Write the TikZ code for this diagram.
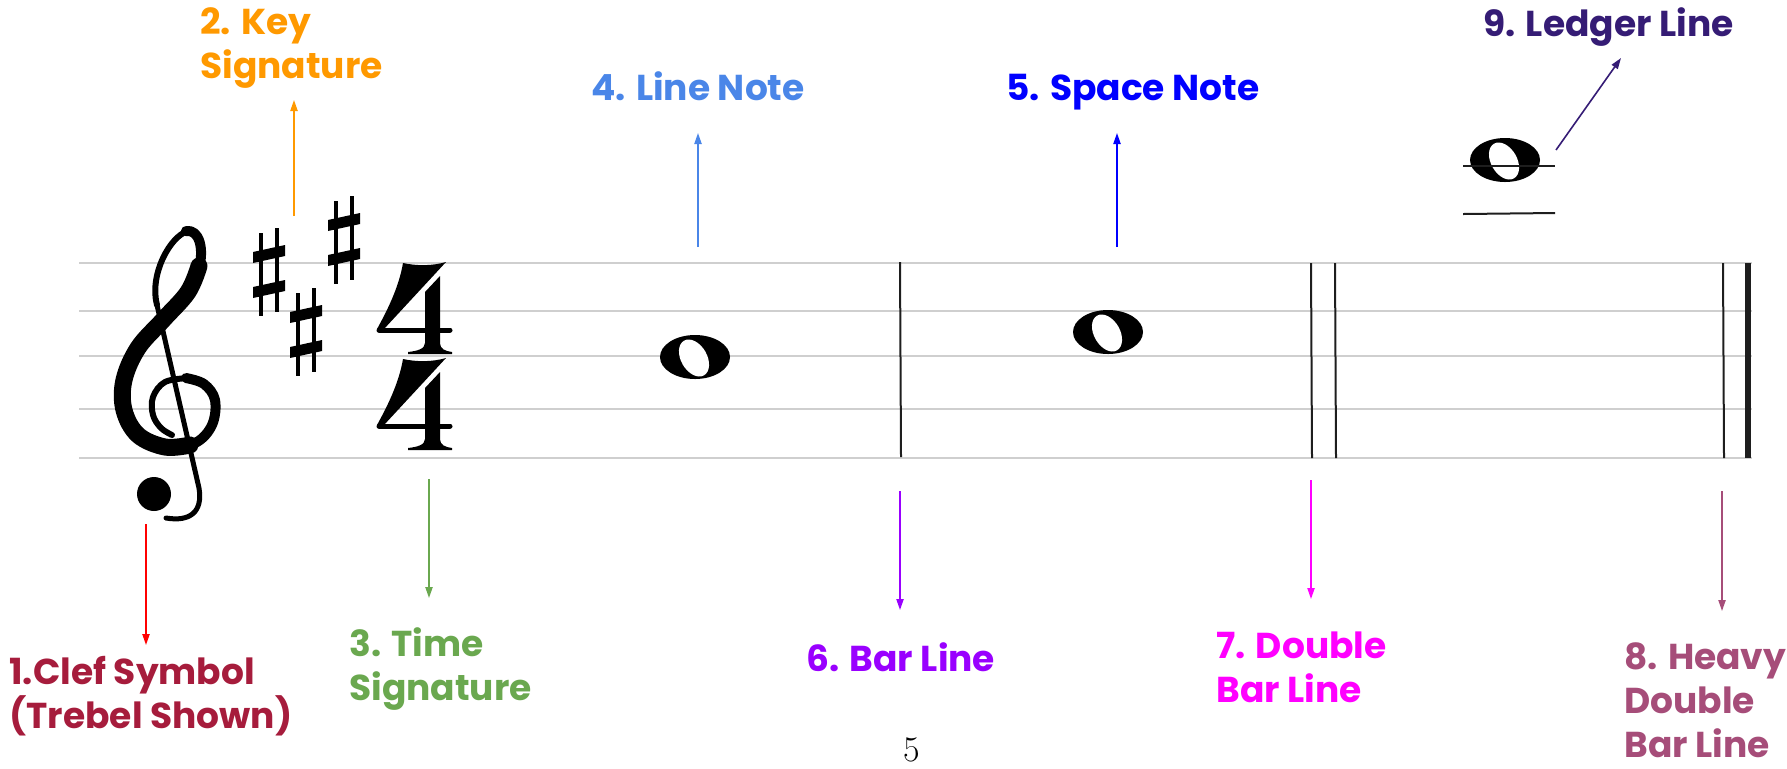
\documentclass[tikz,border=0pt]{standalone}
\usepackage{fontspec}
\newfontfamily\lblfont{Poppins}
\usetikzlibrary{arrows.meta}
\definecolor{cClef}{HTML}{A61C3C}
\definecolor{cClefArrow}{HTML}{FF0000}
\definecolor{cKey}{HTML}{FF9900}
\definecolor{cTime}{HTML}{6AA84F}
\definecolor{cLineNote}{HTML}{4A86E8}
\definecolor{cSpace}{HTML}{0000FF}
\definecolor{cBar}{HTML}{9900FF}
\definecolor{cDouble}{HTML}{FF00FF}
\definecolor{cHeavy}{HTML}{A64D79}
\definecolor{cLedger}{HTML}{351C75}
\definecolor{staffgray}{HTML}{CFCFCF}
\definecolor{inkdark}{HTML}{1E1E1E}
\tikzset{
  lbl/.style={font=\lblfont\bfseries\fontsize{18pt}{22pt}\selectfont, anchor=base west, align=left, inner sep=0pt},
  arr/.style={line width=0.8pt, -{Triangle[length=5.5pt,width=3.6pt]}},
  staffline/.style={draw=staffgray, line width=0.55pt},
  barline/.style={draw=inkdark, line width=1pt},
  ledgerline/.style={draw=inkdark, line width=1pt},
  sharp/.pic={
    \draw[line width=2pt] (-8,-39) -- (-8,44) (8,-44) -- (8,40);
    \fill (-16,-20) -- (16,-27) -- (16,-16) -- (-16,-9) -- cycle;
    \fill (-16,15) -- (16,8) -- (16,19) -- (-16,26) -- cycle;
  },
  wnote/.pic={
    \fill (0,0) ellipse [x radius=35, y radius=22];
    \fill[white, shift={(-1,1)}, rotate=-60] (0,0) ellipse [x radius=20, y radius=13];
  },
  tsfour/.pic={
    \fill (26,0) .. controls (22,24) and (10,48) .. (0,66) -- (7,66) -- (69,-1)
      .. controls (55,3) and (40,3) .. (26,0) -- cycle;
    \fill (48,29) -- (63,13) -- (63,80) .. controls (63,86) and (68,88) .. (75,89)
      -- (75,91) -- (31,91) -- (31,89) .. controls (40,88) and (48,86) .. (48,80) -- cycle;
    \draw[line width=2.5pt, line cap=round] (2,67) -- (73,67);
  },
}
\begin{document}
\begin{tikzpicture}[x=0.5pt,y=-0.5pt]
\useasboundingbox (0,0) rectangle (1787,768);

% staff
\foreach \yy in {263,311,356,409,458} \draw[staffline] (79,\yy) -- (1752,\yy);

% treble clef
\begin{scope}[line cap=round, line join=round]
 \draw[line width=3pt] (157,305) .. controls (149,275) and (170,236) .. (188,231);
 \draw[line width=5pt] (186,231) .. controls (200,229) and (204,250) .. (199,268);
 \draw[line width=8.5pt] plot[smooth, tension=0.6] coordinates {(199,266) (188,292) (163,320) (138,348) (124,380) (124,410) (138,435) (165,447) (190,445)};
 \draw[line width=5pt] plot[smooth, tension=0.6] coordinates {(165,447) (195,443) (212,425) (215,400) (204,384) (186,378)};
 \draw[line width=3pt] plot[smooth, tension=0.6] coordinates {(188,378) (165,382) (153,397) (153,415) (161,428) (172,435)};
 \draw[line width=2.5pt] (157,305) -- (199,488) .. controls (203,512) and (190,522) .. (166,518);
 \fill (154,494) circle [radius=17];
\end{scope}

% key signature
\pic at (269,272) {sharp};
\pic at (306,332) {sharp};
\pic at (344,240) {sharp};

% time signature
\pic at (377,263) {tsfour};
\pic at (377,359) {tsfour};

% notes
\pic at (695,357) {wnote};
\pic at (1108,332) {wnote};
\pic at (1505,160) {wnote};
\draw[ledgerline] (1463,166) -- (1555,166);
\draw[ledgerline] (1463,214) -- (1555,213);

% bar lines
\draw[barline] (900,262) -- (901,457);
\draw[barline] (1311,263) -- (1312,458);
\draw[barline] (1335,263) -- (1336,458);
\draw[barline] (1723,263) -- (1724,458);
\draw[draw=inkdark, line width=2.6pt] (1748,263) -- (1748,458);

% labels (base = baseline of last line)
\node[lbl, text=cClef] (l1) at (9,728) {1.Clef Symbol\\(Trebel Shown)};
\node[lbl, text=cKey] (l2) at (200,78) {2. Key\\Signature};
\node[lbl, text=cTime] (l3) at (349,700) {3. Time\\Signature};
\node[lbl, text=cLineNote] (l4) at (591,100) {4. Line Note};
\node[lbl, text=cSpace] (l5) at (1006,100) {5. Space Note};
\node[lbl, text=cBar] (l6) at (806,671) {6. Bar Line};
\node[lbl, text=cDouble] (l7) at (1216,702) {7. Double\\Bar Line};
\node[lbl, text=cHeavy] (l8) at (1624,757) {8. Heavy\\Double\\Bar Line};
\node[lbl, text=cLedger] (l9) at (1483,36) {9. Ledger Line};

\node[font=\fontsize{18pt}{18pt}\selectfont, anchor=base, inner sep=0pt] (pg) at (912,761) {5};

% arrows
\coordinate (a1s) at (146,524); \coordinate (a1e) at (146,645);
\coordinate (a2s) at (294,216); \coordinate (a2e) at (294,100);
\coordinate (a3s) at (429,479); \coordinate (a3e) at (429,598);
\coordinate (a4s) at (698,247); \coordinate (a4e) at (698,133);
\coordinate (a5s) at (1117,247); \coordinate (a5e) at (1117,133);
\coordinate (a6s) at (900,491); \coordinate (a6e) at (900,610);
\coordinate (a7s) at (1311,480); \coordinate (a7e) at (1311,599);
\coordinate (a8s) at (1722,491); \coordinate (a8e) at (1722,611);
\coordinate (a9s) at (1556,150); \coordinate (a9e) at (1621,58);
\draw[arr, cClefArrow] (a1s) -- (a1e);
\draw[arr, cKey] (a2s) -- (a2e);
\draw[arr, cTime] (a3s) -- (a3e);
\draw[arr, cLineNote] (a4s) -- (a4e);
\draw[arr, cSpace] (a5s) -- (a5e);
\draw[arr, cBar] (a6s) -- (a6e);
\draw[arr, cDouble] (a7s) -- (a7e);
\draw[arr, cHeavy] (a8s) -- (a8e);
\draw[arr, cLedger] (a9s) -- (a9e);
\end{tikzpicture}
\end{document}
